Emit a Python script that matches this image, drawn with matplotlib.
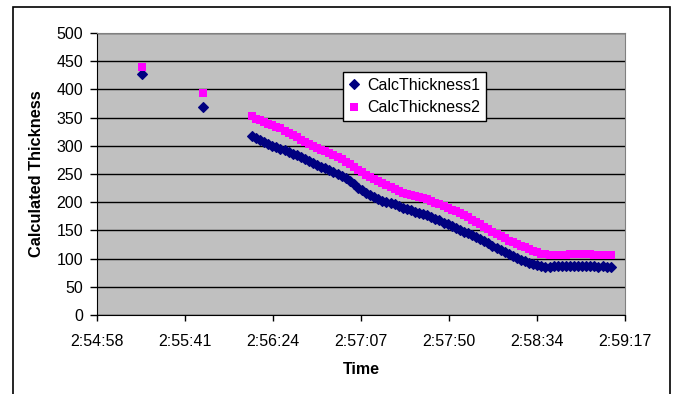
import pandas as pd
import matplotlib
matplotlib.use("Agg")
import matplotlib.pyplot as plt
from matplotlib.patches import Rectangle

plt.rcParams['font.family'] = ['Liberation Sans', 'DejaVu Sans']

# two early readings before the logger settles
early_times = ["02:55:20", "02:55:50"]
early_thick1 = [428, 368]
early_thick2 = [439, 393]

# continuous run, one reading every 2 s
run_start = "02:56:14"
run_step = "2s"
thick1 = [317, 313, 310, 307, 303, 300, 297, 295, 292, 289,
          286, 283, 280, 276, 273, 269, 266, 263, 260, 257,
          253, 250, 247, 243, 238, 232, 226, 221, 217, 213,
          209, 205, 203, 200, 198, 196, 193, 190, 188, 186,
          183, 181, 179, 177, 174, 171, 168, 164, 161, 158,
          154, 151, 148, 145, 141, 138, 134, 131, 127, 123,
          119, 116, 112, 108, 104, 101, 98, 95, 92, 91,
          88, 86, 85, 85, 86, 86, 86, 86, 86, 86,
          86, 86, 86, 86, 86, 85, 86, 85, 85]
thick2 = [352, 348, 346, 343, 339, 336, 334, 331, 327, 323,
          319, 315, 311, 307, 303, 300, 296, 293, 290, 287,
          284, 280, 276, 271, 267, 262, 257, 253, 249, 245,
          241, 238, 234, 231, 227, 223, 220, 217, 215, 213,
          211, 209, 207, 205, 202, 199, 197, 194, 190, 187,
          184, 180, 177, 173, 169, 165, 161, 156, 152, 148,
          144, 140, 136, 132, 129, 126, 123, 120, 117, 114,
          111, 109, 108, 107, 107, 107, 107, 107, 108, 108,
          108, 108, 108, 108, 107, 107, 107, 107, 107]

x_min = "02:54:58"
x_max = "02:59:17"
x_tick_labels = ["2:54:58", "2:55:41", "2:56:24", "2:57:07", "2:57:50", "2:58:34", "2:59:17"]
y_ticks = [0, 50, 100, 150, 200, 250, 300, 350, 400, 450, 500]

day = "2000-01-01 "
run_times = pd.date_range(day + run_start, periods=len(thick1), freq=run_step)
times = list(pd.to_datetime([day + t for t in early_times])) + list(run_times)
series1 = early_thick1 + thick1
series2 = early_thick2 + thick2

fig = plt.figure(figsize=(6.74, 3.94), dpi=100)
ax = fig.add_axes([97 / 674, 79 / 394, 528 / 674, 282 / 394])
ax.set_facecolor('#C0C0C0')

ax.plot(times, series1, ls='none', marker='D', ms=5.0, color='#000080',
        mew=0.8, label='CalcThickness1')
ax.plot(times, series2, ls='none', marker='s', ms=6.2, color='#FF00FF',
        mew=0, label='CalcThickness2')

lo = pd.Timestamp(day + x_min)
hi = pd.Timestamp(day + x_max)
ax.set_xlim(lo, hi)
ax.set_xticks(pd.date_range(lo, hi, periods=len(x_tick_labels)))
ax.set_xticklabels(x_tick_labels)
ax.set_ylim(0, 500)
ax.set_yticks(y_ticks)

ax.set_axisbelow(True)
ax.yaxis.grid(True, color='black', lw=1)
for side in ['top', 'right']:
    ax.spines[side].set_color('#808080')
for side in ['left', 'bottom']:
    ax.spines[side].set_color('black')
ax.tick_params(axis='x', length=4, width=1, pad=10, labelsize=11.5)
ax.tick_params(axis='y', length=5, width=1, pad=5, labelsize=11.5)

ax.set_xlabel('Time', fontsize=11.5, fontweight='bold', labelpad=9)
ax.set_ylabel('Calculated Thickness', fontsize=11.8, fontweight='bold', labelpad=9)

leg = ax.legend(loc='upper left', bbox_to_anchor=(0.465, 0.86), fontsize=11.5,
                frameon=True, fancybox=False, framealpha=1, edgecolor='black',
                borderpad=0.35, handlelength=0.8, handletextpad=0.4,
                labelspacing=0.45, borderaxespad=0)
leg.get_frame().set_linewidth(1)

# chart frame, open at the bottom
fig.patches.append(Rectangle((13 / 674, -0.05), 657 / 674, 1.05 - 7 / 394,
                             transform=fig.transFigure, fill=False,
                             edgecolor='black', lw=1.2))

fig.savefig('out.png', dpi=100)
